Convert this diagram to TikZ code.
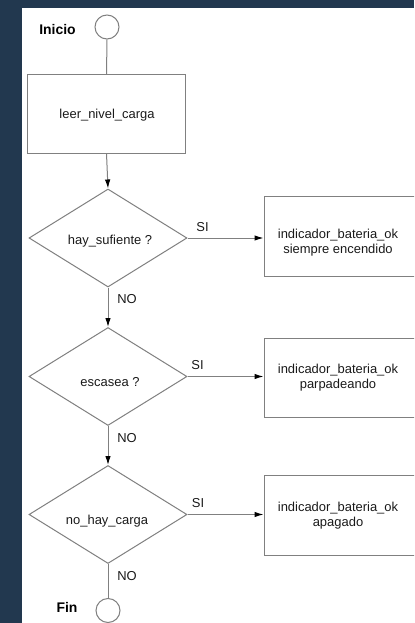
\documentclass[tikz,border=0pt]{standalone}
\usepackage{fontspec}
\setmainfont{Liberation Sans}
\usetikzlibrary{shapes.geometric,arrows.meta}
\definecolor{framebg}{HTML}{22384F}
\definecolor{ln}{HTML}{808080}
\definecolor{tx}{HTML}{1A1A1A}
\begin{document}
\begin{tikzpicture}[x=1bp,y=-1bp,
  conn/.style={draw=ln, line width=1bp},
  arr/.style={conn, -{Latex[length=9bp,width=5.5bp,color=black]}},
  procbox/.style={rectangle, draw=ln, line width=1bp, inner sep=0, fill=white},
  decbox/.style={diamond, draw=ln, line width=1bp, inner sep=0, minimum width=158bp, minimum height=98bp},
  termc/.style={circle, draw=ln, line width=1bp, minimum size=24bp, inner sep=0},
  txt/.style={font=\fontsize{13}{15}\selectfont, text=tx, align=center, inner sep=0},
  ttl/.style={font=\bfseries\fontsize{14}{16}\selectfont, text=black, inner sep=0}]
\useasboundingbox (0,0) rectangle (414,623);
\fill[framebg] (0,0) rectangle (414,623);
\fill[white] (22,8) rectangle (414,623);
\begin{scope}
\clip (22,8) rectangle (414,623);
% start / end
\node[termc] (start) at (107,27) {};
\node[ttl] (inicio) at (57.5,30) {Inicio};
\node[termc] (fin) at (108,610.5) {};
\node[ttl] (finlbl) at (67,607) {Fin};
% process
\node[procbox, minimum width=157bp, minimum height=78bp] (leer) at (106.5,114) {};
\node[txt] (leertxt) at (107,115.5) {leer\_nivel\_carga};
% decisions
\node[decbox] (d1) at (108,238) {};
\node[decbox] (d2) at (108,376.5) {};
\node[decbox] (d3) at (108,514.5) {};
\node[txt] (d1t) at (110,241.5) {hay\_sufiente ?};
\node[txt] (d2t) at (110,382.5) {escasea ?};
\node[txt] (d3t) at (107,521) {no\_hay\_carga};
% output boxes
\node[procbox, minimum width=152bp, minimum height=79bp] (b1) at (340,236.5) {};
\node[procbox, minimum width=152bp, minimum height=79bp] (b2) at (340,377.5) {};
\node[procbox, minimum width=152bp, minimum height=80bp] (b3) at (340,515) {};
\node[txt] (b1t) at (338,243) {indicador\_bateria\_ok\\siempre encendido};
\node[txt] (b2t) at (338,378) {indicador\_bateria\_ok\\parpadeando};
\node[txt] (b3t) at (338,515.5) {indicador\_bateria\_ok\\apagado};
% connectors
\draw[arr] (leer.south) -- (d1.north);
\draw[conn] (start.south) -- (leer.north);
\draw[arr] (d1.east) -- (d1.east -| b1.west);
\draw[arr] (d2.east) -- (d2.east -| b2.west);
\draw[arr] (d3.east) -- (d3.east -| b3.west);
\node[txt] (si1) at ([shift={(15,-10.5)}]d1.east) {SI};
\node[txt] (si2) at ([shift={(10,-11)}]d2.east) {SI};
\node[txt] (si3) at ([shift={(10.5,-11)}]d3.east) {SI};
\draw[arr] (d1.south) -- (d2.north);
\draw[arr] (d2.south) -- (d3.north);
\draw[conn] (d3.south) -- (fin.north);
\node[txt] (no1) at ([shift={(19,12)}]d1.south) {NO};
\node[txt] (no2) at ([shift={(19,12)}]d2.south) {NO};
\node[txt] (no3) at ([shift={(19,12)}]d3.south) {NO};
\end{scope}
\end{tikzpicture}
\end{document}
